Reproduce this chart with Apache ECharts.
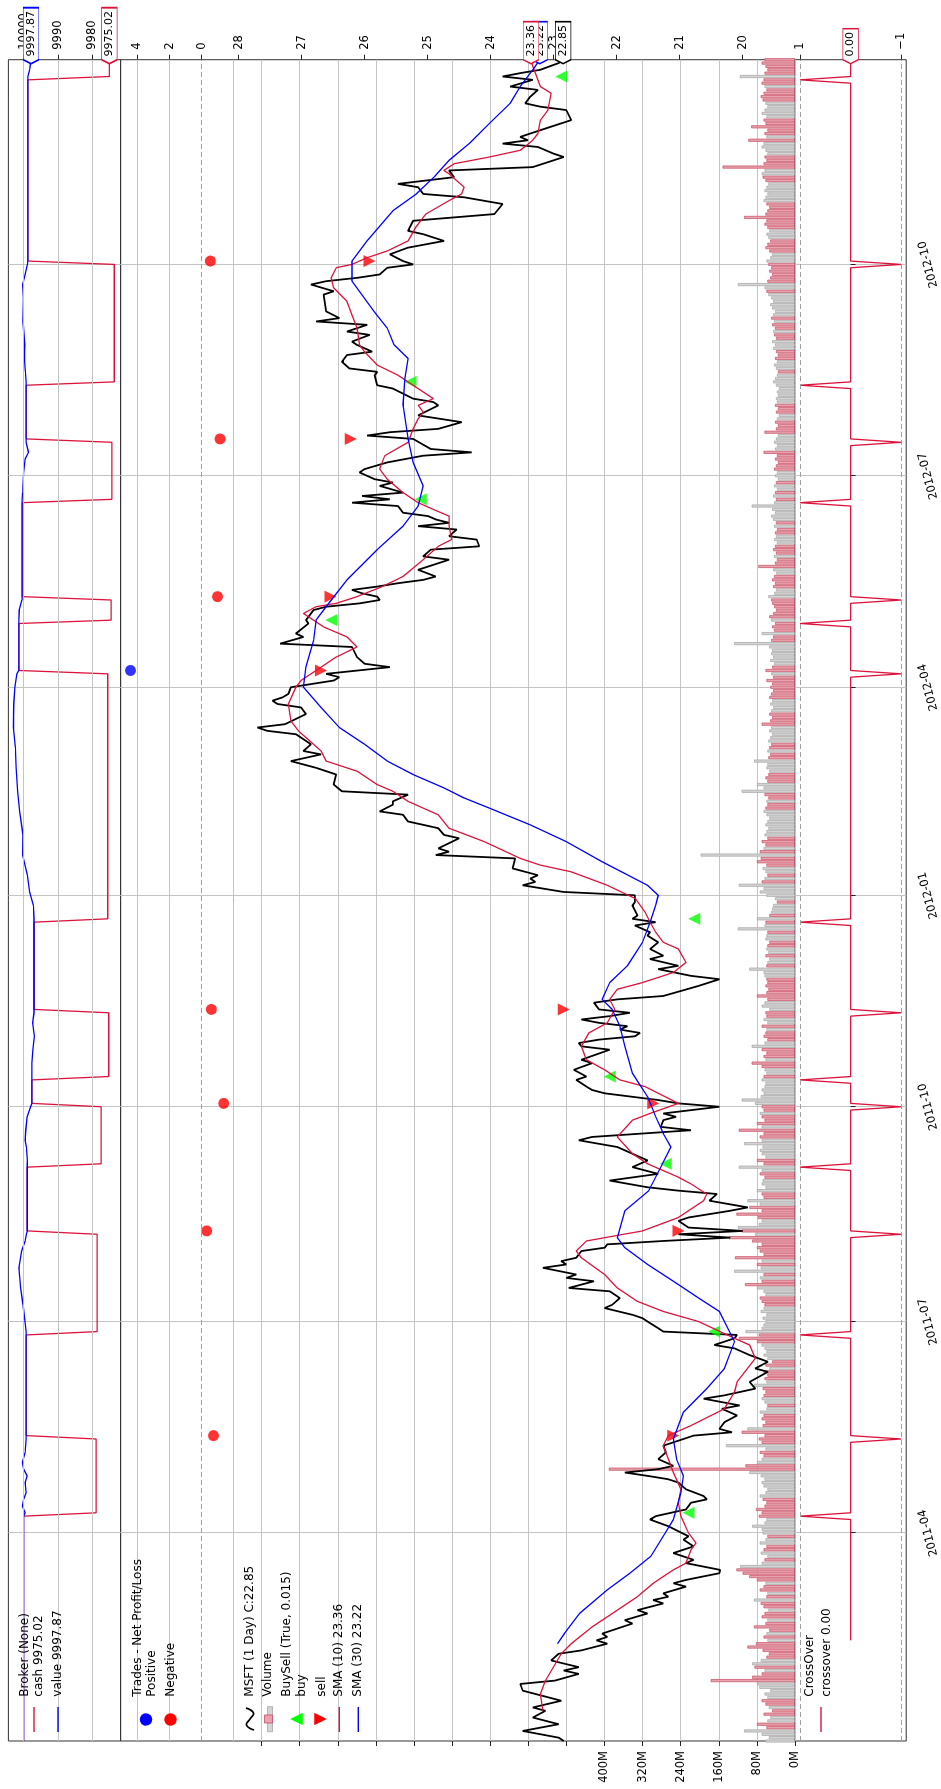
<!DOCTYPE html>
<html>
<head>
<meta charset="utf-8">
<title>MSFT SMA crossover backtest</title>
<script src="https://cdn.jsdelivr.net/npm/echarts@6.0.0/dist/echarts.min.js"></script>
<style>
  html, body { margin: 0; padding: 0; background: #fff; overflow: hidden; }
  body { width: 941px; height: 1789px; position: relative; }
  /* figure is laid out landscape, then turned a quarter turn counter-clockwise */
  #chart {
    position: absolute; left: 0; top: 0;
    width: 1789px; height: 941px;
    transform-origin: 0 0;
    transform: translateY(1789px) rotate(-90deg);
  }
</style>
</head>
<body>
<div id="chart"></div>
<script>
// ---- data (bar index, value) ----
const N = 502; // trading days 2011-01-03 .. 2012-12-31
const tickIdx = [62, 125, 189, 252, 314, 377, 440];
const tickText = ['2011-04', '2011-07', '2011-10', '2012-01', '2012-04', '2012-07', '2012-10'];

const closePts = [[0,22.84],[1,22.92],[3,23.49],[5,22.92],[7,23.33],[9,23.13],[10,23.33],[12,22.88],[15,23.49],[17,23.53],[18,22.98],[20,22.60],[21,22.84],[22,22.60],[24,23.04],[26,22.92],[27,22.56],[29,22.15],[30,22.32],[31,22.15],[32,22.23],[34,21.91],[35,21.75],[36,21.87],[38,21.51],[39,21.67],[41,21.26],[42,21.42],[43,21.18],[44,21.26],[46,20.90],[47,21.10],[48,20.90],[50,20.37],[51,20.36],[53,20.90],[54,20.78],[56,21.10],[58,20.78],[60,20.94],[61,20.86],[64,21.18],[66,21.47],[67,21.38],[69,20.90],[71,20.82],[72,20.57],[73,20.62],[75,20.90],[77,21.02],[78,21.18],[79,21.51],[80,21.87],[81,21.34],[82,21.10],[84,21.34],[86,21.22],[88,21.26],[90,20.94],[91,20.78],[92,20.17],[93,20.37],[95,20.29],[97,20.09],[99,20.33],[100,20.05],[102,20.62],[103,20.29],[105,19.80],[107,19.89],[110,19.60],[111,19.80],[113,19.60],[115,19.89],[117,20.13],[118,20.45],[120,20.13],[121,20.09],[122,21.26],[123,21.34],[125,21.51],[126,21.59],[127,21.75],[129,22.19],[130,22.07],[132,21.95],[134,22.11],[135,22.76],[137,22.36],[138,22.80],[139,22.64],[141,23.17],[142,22.80],[143,22.88],[144,22.64],[146,22.56],[147,22.19],[148,22.15],[149,21.26],[150,20.20],[151,21.02],[152,20.00],[153,20.86],[155,21.02],[156,20.86],[158,20.20],[159,19.92],[161,20.53],[163,20.41],[164,21.02],[165,21.51],[167,22.11],[169,21.34],[171,21.75],[173,21.51],[175,21.75],[177,21.99],[179,22.60],[180,22.39],[182,20.82],[183,21.30],[185,21.26],[186,21.06],[187,21.26],[189,20.37],[190,21.02],[191,21.34],[193,22.19],[194,22.39],[195,22.48],[197,22.64],[198,22.48],[200,22.68],[202,22.39],[203,22.56],[206,22.11],[207,22.56],[208,22.60],[209,22.28],[210,21.71],[211,21.63],[212,21.95],[213,21.83],[214,22.28],[215,22.56],[216,22.11],[217,21.79],[218,22.28],[220,22.36],[221,21.99],[222,21.26],[225,20.70],[227,20.37],[228,20.82],[230,21.34],[231,21.02],[233,21.47],[234,21.26],[236,21.47],[238,21.34],[240,21.51],[241,21.47],[243,21.71],[244,21.38],[245,21.75],[246,21.67],[249,21.75],[250,21.71],[252,21.71],[253,22.84],[255,23.49],[256,23.29],[257,23.37],[258,23.25],[260,23.65],[263,23.61],[264,24.87],[265,24.66],[266,24.83],[269,24.50],[270,24.74],[272,24.83],[273,25.07],[274,25.31],[276,25.39],[277,25.76],[279,25.55],[280,25.55],[282,25.31],[283,26.36],[285,26.49],[288,26.45],[289,26.61],[290,26.77],[292,27.17],[294,26.69],[295,26.97],[297,26.85],[299,27.01],[300,27.09],[301,27.54],[302,27.70],[303,27.26],[306,26.93],[308,27.01],[309,27.38],[310,27.46],[311,27.30],[312,27.21],[314,27.17],[316,26.49],[317,26.40],[318,26.61],[320,25.60],[321,26.00],[323,26.12],[326,26.20],[327,27.34],[329,26.97],[330,27.09],[333,26.89],[334,26.93],[337,26.81],[338,26.61],[339,26.08],[340,25.76],[341,25.80],[342,26.04],[343,26.20],[344,25.80],[345,25.47],[346,25.07],[347,24.87],[349,25.15],[352,24.66],[353,25.07],[355,24.95],[356,24.18],[358,24.22],[359,24.66],[361,24.54],[362,25.15],[363,24.66],[364,24.87],[365,24.99],[366,25.39],[368,25.47],[369,26.20],[370,25.60],[371,26.04],[372,25.39],[374,25.76],[375,25.55],[376,25.84],[378,26.08],[379,26.00],[381,25.64],[383,25.07],[384,24.30],[385,24.95],[388,25.23],[389,25.96],[390,25.60],[391,24.83],[393,24.46],[395,25.15],[398,24.83],[399,24.91],[400,25.23],[403,25.55],[404,25.80],[407,25.84],[408,25.80],[409,26.24],[411,26.36],[413,26.28],[414,25.88],[416,26.12],[417,26.20],[419,25.92],[420,26.28],[422,25.96],[423,26.77],[424,26.40],[426,26.61],[431,26.65],[432,26.49],[434,26.85],[435,26.61],[436,26.12],[437,25.76],[439,25.64],[440,25.23],[441,25.39],[443,25.60],[445,25.31],[447,24.74],[449,25.07],[450,25.31],[453,25.23],[455,23.94],[458,23.81],[460,24.42],[461,25.07],[463,25.15],[464,25.47],[466,24.58],[468,24.66],[469,23.33],[472,22.84],[473,23.00],[475,23.25],[476,23.81],[477,23.41],[478,23.53],[480,23.21],[483,22.72],[486,22.80],[487,23.21],[488,23.45],[490,23.37],[492,23.25],[493,23.69],[495,23.33],[496,23.81],[497,23.53],[498,23.21],[500,22.92],[501,22.85]];

const sma10Pts = [[9,23.17],[14,23.21],[18,23.13],[26,22.88],[29,22.72],[34,22.39],[39,21.99],[43,21.67],[47,21.42],[51,21.10],[53,20.90],[57,20.82],[59,20.74],[62,20.86],[67,20.98],[71,21.02],[75,20.98],[80,21.10],[84,21.18],[88,21.26],[91,21.18],[94,20.82],[99,20.29],[104,20.13],[107,20.09],[114,19.80],[118,19.89],[120,20.13],[125,20.70],[128,21.26],[131,21.67],[135,21.99],[139,22.19],[144,22.56],[146,22.64],[149,22.48],[152,21.59],[156,21.02],[161,20.62],[163,20.57],[166,20.82],[168,21.02],[172,21.51],[175,21.75],[180,21.99],[185,21.75],[187,21.47],[190,21.02],[195,21.55],[197,21.95],[200,22.19],[203,22.48],[207,22.56],[211,22.44],[214,22.15],[218,22.03],[221,22.11],[224,21.99],[226,21.59],[229,21.10],[232,20.90],[236,21.02],[238,21.26],[241,21.38],[244,21.47],[247,21.55],[251,21.70],[255,22.15],[259,22.72],[261,23.21],[263,23.53],[268,24.10],[272,24.66],[276,24.83],[280,25.31],[283,25.55],[285,25.80],[289,26.12],[292,26.61],[295,26.69],[299,26.93],[301,27.05],[304,27.17],[309,27.21],[314,27.09],[316,27.01],[320,26.69],[323,26.45],[326,26.12],[329,26.28],[332,26.65],[336,26.97],[338,26.77],[339,26.45],[341,26.12],[344,25.72],[347,25.39],[352,25.07],[356,24.83],[358,24.62],[362,24.66],[365,24.66],[367,24.91],[369,25.15],[372,25.39],[376,25.64],[379,25.76],[383,25.68],[387,25.31],[391,25.23],[394,25.15],[396,25.07],[398,25.15],[400,24.91],[403,25.15],[407,25.47],[410,25.80],[414,26.00],[416,26.08],[421,26.12],[425,26.20],[429,26.28],[433,26.49],[436,26.53],[439,26.45],[440,26.20],[442,25.96],[444,25.64],[447,25.31],[451,25.19],[455,25.03],[459,24.66],[461,24.46],[463,24.42],[467,24.66],[468,24.74],[470,24.58],[472,24.02],[474,23.53],[477,23.33],[479,23.25],[483,23.21],[486,23.09],[491,23.04],[493,23.21],[495,23.25],[499,23.33],[501,23.36]];

const sma30Pts = [[29,22.94],[32,22.83],[38,22.59],[45,22.15],[50,21.79],[55,21.46],[62,21.23],[66,21.10],[74,20.98],[79,20.94],[84,21.05],[90,21.10],[98,20.94],[105,20.57],[111,20.29],[119,20.13],[128,20.37],[132,20.70],[137,21.10],[142,21.51],[147,21.87],[150,21.99],[158,21.87],[164,21.49],[171,21.30],[177,21.14],[181,21.26],[186,21.38],[192,21.51],[199,21.75],[207,21.87],[213,21.95],[218,22.07],[221,22.23],[226,22.11],[231,21.83],[238,21.59],[244,21.47],[249,21.38],[252,21.34],[255,21.51],[262,22.23],[268,22.80],[273,23.37],[278,24.02],[281,24.42],[284,24.74],[288,25.23],[292,25.64],[297,26.00],[302,26.40],[308,26.69],[314,26.97],[320,26.93],[328,26.81],[334,26.77],[338,26.61],[346,26.28],[355,25.80],[362,25.39],[368,25.15],[374,25.07],[381,25.23],[388,25.31],[398,25.39],[406,25.36],[412,25.31],[416,25.53],[421,25.64],[426,25.85],[435,26.20],[441,26.20],[447,25.96],[456,25.55],[461,25.18],[466,24.90],[471,24.66],[476,24.34],[482,24.02],[488,23.69],[493,23.53],[498,23.33],[501,23.22]];

// volume per bar, millions
const volumeM = [
  62,55,70,107,60,80,58,52,66,48,55,62,70,58,64,52,75,80,177,90,
  70,64,85,90,72,60,55,68,100,82,58,66,60,54,86,62,58,70,64,56,
  66,72,86,60,58,74,66,62,80,96,110,123,115,70,64,58,72,66,60,74,
  62,58,68,70,90,64,60,76,70,82,64,60,68,74,62,58,66,70,64,72,
  96,391,104,80,70,66,74,62,145,70,76,64,112,100,68,62,70,66,74,60,
  58,64,70,66,62,68,86,60,64,58,66,54,62,48,58,66,60,64,70,80,
  118,76,104,70,66,62,68,60,72,66,64,70,74,62,66,80,105,70,74,66,
  128,72,80,70,126,66,74,80,70,90,139,84,112,120,76,70,78,123,70,96,
  74,100,66,70,80,62,70,68,64,74,70,118,66,80,62,70,74,68,107,70,
  74,66,118,70,80,64,70,74,66,70,84,112,72,66,70,64,62,70,66,60,
  64,70,91,62,66,60,70,91,64,58,66,62,60,70,58,66,60,62,54,70,
  64,58,80,60,56,62,58,60,64,66,96,60,58,54,62,56,60,58,54,62,
  60,58,120,64,62,80,54,50,48,46,38,42,60,74,66,118,70,64,58,62,
  68,60,80,72,198,74,66,62,70,58,64,60,56,62,58,54,60,66,62,58,
  60,56,64,112,66,80,58,62,56,54,60,58,86,56,52,58,54,50,56,52,
  48,54,50,70,52,48,54,50,46,52,48,54,50,46,52,48,60,46,50,62,
  48,44,52,46,50,48,54,128,50,46,70,44,48,42,50,54,46,40,44,48,
  50,56,44,40,46,42,48,44,40,46,77,42,38,44,40,46,42,38,44,40,
  42,38,44,40,46,50,42,48,91,44,40,46,42,38,44,40,36,42,38,44,
  40,36,42,38,66,42,38,44,40,36,64,40,36,42,38,34,40,36,42,38,
  40,36,38,34,40,46,42,38,36,40,44,38,42,36,40,46,42,48,40,44,
  46,42,48,44,50,46,42,48,52,46,50,56,60,64,120,58,52,48,54,50,
  56,60,52,48,54,62,58,52,56,60,54,58,64,60,107,62,58,54,60,66,
  62,58,64,60,56,62,68,70,64,152,66,60,64,58,62,70,66,98,60,64,
  58,92,62,66,60,70,64,58,62,68,72,66,60,64,70,66,116,64,58,62,
  70,64
];

const buyPts = [[68,20.86],[122,20.45],[172,21.22],[198,22.11],[245,20.77],[334,26.53],[370,25.11],[405,25.27],[496,22.88]];
const sellPts = [[91,21.10],[152,21.02],[190,21.42],[218,22.84],[319,26.69],[341,26.54],[388,26.22],[441,25.92]];

const winTrades = [[319,4.44]];
const lossTrades = [[91,-0.73],[152,-0.31],[190,-1.37],[218,-0.60],[341,-0.98],[388,-1.14],[441,-0.54]];

const cashPts = [[0,10000],[67,10000],[68,9978.9],[90,9978.9],[91,9999.27],[121,9999.27],[122,9978.6],[151,9978.6],[152,9998.96],[171,9998.96],[172,9977.4],[189,9977.4],[190,9997.59],[197,9997.59],[198,9975.2],[217,9975.2],[218,9996.99],[244,9996.99],[245,9975.5],[318,9975.5],[319,10001.43],[333,10001.43],[334,9974.5],[340,9974.5],[341,10000.45],[369,10000.45],[370,9974.3],[387,9974.3],[388,9999.31],[404,9999.31],[405,9973.6],[440,9973.6],[441,9998.77],[495,9998.77],[496,9975.02],[501,9975.02]];

const valuePts = [[0,10000],[67,10000],[68,9999.6],[70,10000.4],[72,10000.0],[74,9999.3],[77,9999.6],[79,9999.0],[81,10000.0],[83,10000.4],[86,9999.6],[90,9999.3],[91,9999.27],[122,9999.27],[124,9999.5],[130,10000.2],[135,10000.9],[141,10001.4],[146,10000.6],[149,9999.6],[151,9999.2],[152,9998.96],[172,9998.96],[173,9998.9],[177,9999.2],[179,9999.6],[182,9999.4],[186,9999.0],[189,9998.0],[190,9997.59],[198,9997.59],[202,9997.6],[206,9997.3],[210,9996.9],[214,9997.4],[217,9997.0],[218,9996.99],[245,9996.99],[249,9997.2],[253,9998.3],[258,9998.9],[264,10000.3],[270,10000.2],[277,10001.2],[283,10001.8],[290,10002.2],[296,10002.4],[302,10003.0],[309,10002.9],[314,10002.6],[318,10002.0],[319,10001.43],[334,10001.43],[337,10001.3],[340,10000.5],[341,10000.45],[370,10000.45],[372,10000.3],[378,10000.0],[382,9999.6],[384,9998.6],[387,9999.3],[388,9999.31],[405,9999.31],[408,9999.5],[412,9999.8],[416,9999.7],[423,10000.2],[430,10000.1],[434,10000.3],[437,9999.6],[440,9998.9],[441,9998.77],[496,9998.77],[498,9998.3],[501,9997.87]];

// crossover signal bars (+1 up, -1 down); line sits at 0 otherwise
const crossUp = [67, 121, 171, 197, 244, 333, 369, 404, 495];
const crossDown = [90, 151, 189, 217, 318, 340, 387, 440];
const crossStart = 30;

// ---- styling ----
const FONT = 'DejaVu Sans';
const CRIMSON = '#dc143c';
const BLUE = '#0000ff';
const GRID = '#c4c4c4';
const FRAME = '#333333';

const cats = [];
for (let i = 0; i < N; i++) cats.push(String(i));
const isTick = i => tickIdx.indexOf(i) >= 0;

// volume bar colour follows the direction of the close line at that bar
function downAt(i) {
  for (let k = 1; k < closePts.length; k++) {
    if (closePts[k][0] >= i) return closePts[k][1] < closePts[k - 1][1];
  }
  return false;
}
const volData = volumeM.map((v, i) => ({
  value: v,
  itemStyle: downAt(i)
    ? { color: '#e7a4ae', borderColor: '#c94a62', borderWidth: 0.7 }
    : { color: '#d4d4d4', borderColor: '#a4a4a4', borderWidth: 0.7 }
}));

const crossEvents = crossUp.map(i => [i, 1]).concat(crossDown.map(i => [i, -1]))
  .sort((a, b) => a[0] - b[0]);
const crossLine = [[crossStart, 0]];
crossEvents.forEach(e => { crossLine.push([e[0] - 1, 0], [e[0], e[1]], [e[0] + 1, 0]); });
crossLine.push([N - 1, 0]);

const ctx = document.createElement('canvas').getContext('2d');
ctx.font = '11px "' + FONT + '"';

// value tag at the right end of a line, pointed towards the axis
function tag(xIdx, yIdx, value, text, border, z) {
  const w = Math.round(ctx.measureText(text).width + 11);
  const h = 15.5, tip = 4;
  const path = 'path://M0,' + h / 2 + 'L' + tip + ',0L' + w + ',0L' + w + ',' + h + 'L' + tip + ',' + h + 'Z';
  return {
    type: 'scatter', xAxisIndex: xIdx, yAxisIndex: yIdx, z: z, silent: true, clip: false,
    symbol: path, symbolSize: [w, h], symbolKeepAspect: false, symbolOffset: [w / 2 - tip, 0],
    itemStyle: { color: '#ffffff', borderColor: border, borderWidth: 1, opacity: 1 },
    label: { show: true, position: 'inside', formatter: text, color: '#000', fontSize: 11, fontFamily: FONT, offset: [tip / 2, 0] },
    data: [[N - 1, value]]
  };
}

function hlines(values, dashed) {
  return {
    silent: true, symbol: 'none', label: { show: false },
    data: values.map(v => ({ yAxis: v, lineStyle: dashed ? { color: '#a0a0a0', type: [5, 3], width: 1 } : { color: GRID, type: 'solid', width: 1 } }))
  };
}

// legend, drawn in figure coordinates
const LX1 = 57, LX2 = 82, LMID = 69.5, TX = 92.3;
const legendRows = [
  ['Broker (None)', 25], ['cash 9975.02', 38.5], ['value 9997.87', 58],
  ['Trades - Net Profit/Loss', 137.5], ['Positive', 151.5], ['Negative', 170.5],
  ['MSFT (1 Day) C:22.85', 250], ['Volume', 268], ['BuySell (True, 0.015)', 286.5], ['buy', 301.5], ['sell', 321.5],
  ['SMA (10) 23.36', 339.3], ['SMA (30) 23.22', 358.3],
  ['CrossOver', 810], ['crossover 0.00', 826.5]
];
const graphic = legendRows.map(r => ({
  type: 'text', x: TX, y: r[1], z: 100, silent: true,
  style: { text: r[0], fill: '#000', font: '12px "' + FONT + '"', textAlign: 'left', verticalAlign: 'middle', textVerticalAlign: 'middle' }
}));
const hline = (y, c) => ({ type: 'line', z: 100, silent: true, shape: { x1: LX1, y1: y, x2: LX2, y2: y }, style: { stroke: c, lineWidth: 1.4 } });
graphic.push(
  hline(34, CRIMSON), hline(58, BLUE),
  { type: 'circle', z: 100, silent: true, shape: { cx: LMID, cy: 146, r: 6.2 }, style: { fill: BLUE } },
  { type: 'circle', z: 100, silent: true, shape: { cx: LMID, cy: 170.5, r: 6.2 }, style: { fill: '#ff0000' } },
  { type: 'polyline', z: 100, silent: true, shape: { points: [[59, 254], [64, 246.5], [70, 250], [76, 253.5], [81, 246]], smooth: 0.5 }, style: { stroke: '#000', lineWidth: 1.8, fill: null } },
  { type: 'rect', z: 100, silent: true, shape: { x: 57.3, y: 267.5, width: 25, height: 5 }, style: { fill: '#d4d4d4', stroke: '#a4a4a4', lineWidth: 0.8 } },
  { type: 'rect', z: 101, silent: true, shape: { x: 66, y: 264.5, width: 8, height: 8 }, style: { fill: '#e7a4ae', stroke: '#c94a62', lineWidth: 0.8 } },
  { type: 'polygon', z: 100, silent: true, shape: { points: [[70, 290.3], [63.8, 302.7], [76.2, 302.7]] }, style: { fill: '#00ff00' } },
  { type: 'polygon', z: 100, silent: true, shape: { points: [[70, 326.7], [63.8, 314.3], [76.2, 314.3]] }, style: { fill: '#ff0000' } },
  hline(339.3, CRIMSON), hline(358.3, BLUE), hline(821, CRIMSON)
);

const panels = [
  { top: 8.4, height: 112.2 },
  { top: 120.6, height: 112.9 },
  { top: 233.5, height: 561.5 },
  { top: 795, height: 112 }
];

const tickStyle = { show: true, length: 5, lineStyle: { color: '#222', width: 1 } };
const labelStyle = { color: '#000', fontSize: 11.5, fontFamily: FONT, margin: 10 };

const option = {
  animation: false,
  backgroundColor: '#ffffff',
  textStyle: { fontFamily: FONT },
  grid: panels.map(p => ({ left: 48, right: 59.7, top: p.top, height: p.height, show: true, borderColor: FRAME, borderWidth: 1, backgroundColor: 'transparent' })),
  xAxis: panels.map((p, g) => ({
    type: 'category', gridIndex: g, data: cats, boundaryGap: false,
    axisLine: { show: false },
    axisTick: g === 3 ? Object.assign({}, tickStyle, { interval: isTick }) : { show: false },
    axisLabel: g === 3 ? {
      show: true, interval: isTick, rotate: 15, align: 'center', verticalAlign: 'middle', margin: 22,
      color: '#000', fontSize: 11.5, fontFamily: FONT,
      formatter: v => tickText[tickIdx.indexOf(Number(v))] || ''
    } : { show: false },
    splitLine: { show: true, interval: isTick, lineStyle: { color: GRID, width: 1 } }
  })),
  yAxis: [
    { type: 'value', gridIndex: 0, position: 'right', min: 9971.75, max: 10004.46, splitNumber: 3,
      axisLine: { show: false }, axisTick: Object.assign({ customValues: [9980, 9990, 10000] }, tickStyle),
      axisLabel: Object.assign({ customValues: [9980, 9990, 10000], formatter: v => String(Math.round(v)) }, labelStyle),
      splitLine: { show: false } },
    { type: 'value', gridIndex: 1, position: 'right', min: -1.98, max: 5.05, splitNumber: 3,
      axisLine: { show: false }, axisTick: Object.assign({ customValues: [0, 2, 4] }, tickStyle),
      axisLabel: Object.assign({ customValues: [0, 2, 4], formatter: v => String(Math.round(v)) }, labelStyle),
      splitLine: { show: false } },
    { type: 'value', gridIndex: 2, position: 'right', min: 19.17, max: 28.08, splitNumber: 9,
      axisLine: { show: false }, axisTick: Object.assign({ customValues: [20, 21, 22, 23, 24, 25, 26, 27, 28] }, tickStyle),
      axisLabel: Object.assign({ customValues: [20, 21, 22, 23, 24, 25, 26, 27, 28], formatter: v => String(Math.round(v)) }, labelStyle),
      splitLine: { show: false } },
    { type: 'value', gridIndex: 2, position: 'left', min: 0, max: 1179, interval: 80,
      axisLine: { show: false }, axisTick: tickStyle,
      axisLabel: { color: '#000', fontSize: 11.5, fontFamily: FONT, margin: 10, showMaxLabel: false, formatter: v => (v <= 400 ? v + 'M' : '') },
      splitLine: { show: true, lineStyle: { color: GRID, width: 1 } } },
    { type: 'value', gridIndex: 3, position: 'right', min: -1.098, max: 1.098, splitNumber: 2,
      axisLine: { show: false }, axisTick: Object.assign({ customValues: [-1, 0, 1] }, tickStyle),
      axisLabel: Object.assign({ customValues: [-1, 0, 1], formatter: v => (v < 0 ? '\u2212' + Math.abs(Math.round(v)) : String(Math.round(v))) }, labelStyle),
      splitLine: { show: false } }
  ],
  graphic: graphic,
  series: [
    { name: 'cash', type: 'line', xAxisIndex: 0, yAxisIndex: 0, data: cashPts, symbol: 'none', z: 3,
      lineStyle: { color: CRIMSON, width: 1.3 }, markLine: hlines([9980, 9990, 10000], false) },
    { name: 'value', type: 'line', xAxisIndex: 0, yAxisIndex: 0, data: valuePts, symbol: 'none', z: 3,
      lineStyle: { color: BLUE, width: 1.3 } },
    { name: 'Negative', type: 'scatter', xAxisIndex: 1, yAxisIndex: 1, data: lossTrades, symbolSize: 11, z: 3,
      itemStyle: { color: '#ff0000' }, markLine: hlines([2, 4], false) },
    { name: 'Positive', type: 'scatter', xAxisIndex: 1, yAxisIndex: 1, data: winTrades, symbolSize: 11, z: 3,
      itemStyle: { color: BLUE }, markLine: hlines([0], true) },
    { name: 'Volume', type: 'bar', xAxisIndex: 2, yAxisIndex: 3, data: volData, barWidth: 3, z: 2 },
    { name: 'MSFT', type: 'line', xAxisIndex: 2, yAxisIndex: 2, data: closePts, symbol: 'none', z: 3,
      lineStyle: { color: '#000000', width: 1.8 } },
    { name: 'buy', type: 'scatter', xAxisIndex: 2, yAxisIndex: 2, data: buyPts, symbol: 'triangle', symbolSize: [12, 12], z: 4,
      itemStyle: { color: '#00ff00' } },
    { name: 'sell', type: 'scatter', xAxisIndex: 2, yAxisIndex: 2, data: sellPts, symbol: 'triangle', symbolRotate: 180, symbolSize: [12, 12], z: 4,
      itemStyle: { color: '#ff0000' } },
    { name: 'SMA (10)', type: 'line', xAxisIndex: 2, yAxisIndex: 2, data: sma10Pts, symbol: 'none', z: 5,
      lineStyle: { color: CRIMSON, width: 1.3 } },
    { name: 'SMA (30)', type: 'line', xAxisIndex: 2, yAxisIndex: 2, data: sma30Pts, symbol: 'none', z: 5,
      lineStyle: { color: BLUE, width: 1.3 } },
    { name: 'crossover', type: 'line', xAxisIndex: 3, yAxisIndex: 4, data: crossLine, symbol: 'none', z: 3,
      lineStyle: { color: CRIMSON, width: 1.3 }, markLine: hlines([-1, 1], true) },
    tag(0, 0, 9997.87, '9997.87', BLUE, 10),
    tag(0, 0, 9975.02, '9975.02', CRIMSON, 11),
    tag(2, 2, 23.22, '23.22', BLUE, 10),
    tag(2, 2, 23.36, '23.36', CRIMSON, 11),
    tag(2, 2, 22.85, '22.85', '#000000', 12),
    tag(3, 4, 0, '0.00', CRIMSON, 11)
  ]
};

const chart = echarts.init(document.getElementById('chart'), null, { renderer: 'canvas' });
chart.setOption(option);
</script>
</body>
</html>
